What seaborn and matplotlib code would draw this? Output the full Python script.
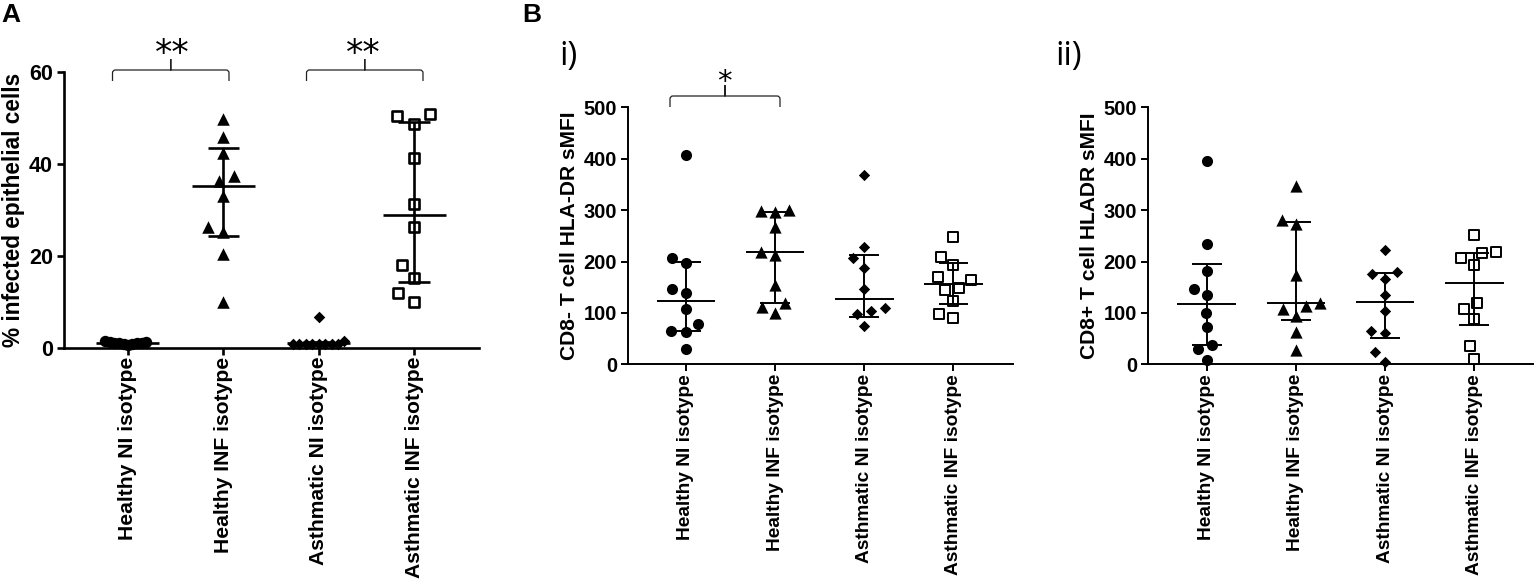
import numpy as np
import pandas as pd
import matplotlib
matplotlib.use("Agg")
import matplotlib.pyplot as plt
import seaborn as sns
from matplotlib.path import Path
from matplotlib.patches import PathPatch

W, H = 1535, 580

groups = ["Healthy NI isotype", "Healthy INF isotype", "Asthmatic NI isotype", "Asthmatic INF isotype"]

# panel A, % infected epithelial cells
a_healthy_ni = [0.5, 0.8, 0.9, 1.0, 1.0, 1.0, 1.1, 1.2, 1.3, 1.4]
a_healthy_inf = [49.7, 45.8, 42.3, 37.4, 36.3, 33.1, 26.3, 25.2, 20.3, 9.9]
a_asthma_ni = [6.6, 1.5, 0.9, 0.9, 0.9, 0.9, 0.9, 0.9, 0.9, 0.9]
a_asthma_inf = [50.9, 50.5, 48.7, 41.2, 31.3, 26.3, 18.1, 15.1, 12.0, 9.9]
a_mid = [1.0, 35.2, 1.0, 28.9]
a_low = [0.7, 24.3, 0.8, 14.4]
a_high = [1.3, 43.5, 1.2, 49.2]

# panel B i, CD8- HLA-DR
bi_healthy_ni = [407, 206, 198, 147, 139, 107, 78, 64, 62, 30]
bi_healthy_inf = [300, 299, 296, 268, 219, 213, 154, 120, 111, 100]
bi_asthma_ni = [368, 228, 206, 188, 147, 109, 104, 98, 75]
bi_asthma_inf = [247, 208, 193, 169, 164, 148, 145, 123, 98, 91]
bi_mid = [124, 218, 128, 156]
bi_low = [65, 120, 92, 117]
bi_high = [200, 297, 212, 198]

# panel B ii, CD8+ HLADR
bii_healthy_ni = [396, 234, 181, 147, 134, 99, 72, 38, 30, 8]
bii_healthy_inf = [346, 281, 273, 174, 120, 113, 107, 93, 63, 28]
bii_asthma_ni = [222, 180, 175, 165, 135, 104, 64, 60, 23, 4]
bii_asthma_inf = [252, 218, 216, 206, 193, 120, 108, 89, 36, 10]
bii_mid = [118, 119, 121, 158]
bii_low = [38, 86, 51, 77]
bii_high = [195, 277, 178, 217]

markers = ["o", "^", "D", "s"]

sns.set_theme(style="ticks")
plt.rcParams["font.family"] = ["Liberation Sans", "DejaVu Sans"]
plt.rcParams["text.color"] = "black"
plt.rcParams["axes.labelcolor"] = "black"
plt.rcParams["xtick.labelcolor"] = "black"
plt.rcParams["ytick.labelcolor"] = "black"
plt.rcParams["axes.edgecolor"] = "black"

fig = plt.figure(figsize=(W / 100, H / 100), dpi=100)


def px_axes(left, top, right, bottom):
    return fig.add_axes([left / W, 1 - bottom / H, (right - left) / W, (bottom - top) / H])


def panel(ax, series, mid, low, high, ymax, yticks, ylabel, lw, msize, layout, xlim,
          xfont, yfont, labelfont, xpad, labelpad):
    for i, vals in enumerate(series):
        df = pd.DataFrame({"group": groups[i], "value": vals})
        before = len(ax.collections)
        open_mark = markers[i] == "s"
        sns.swarmplot(data=df, x="group", y="value", order=groups, ax=ax,
                      marker=markers[i], size=layout[i], warn_thresh=1,
                      color="white" if open_mark else "black",
                      edgecolor="black", linewidth=0)
        for coll in ax.collections[before:]:
            coll.set_clip_on(False)
            coll.set_gid(str(i))
    ax.set_xlim(*xlim)
    ax.set_ylim(0, ymax)
    fig.canvas.draw()
    # freeze the swarm layout, then grow the markers to their drawn size
    for coll in ax.collections:
        if "draw" in coll.__dict__:
            del coll.__dict__["draw"]
        i = int(coll.get_gid())
        if markers[i] == "s":
            coll.set_sizes([(msize * 0.9) ** 2])
            coll.set_facecolor("white")
            coll.set_edgecolor("black")
            coll.set_linewidth(lw)
        elif markers[i] == "D":
            coll.set_sizes([(msize * 0.72) ** 2])
        elif markers[i] == "^":
            coll.set_sizes([(msize * 1.1) ** 2])
        else:
            coll.set_sizes([msize ** 2])
    pos = np.arange(len(groups))
    ax.vlines(pos, low, high, color="black", lw=lw, zorder=5)
    ax.hlines(mid, pos - 0.33, pos + 0.33, color="black", lw=lw, zorder=5)
    ax.hlines(low, pos - 0.165, pos + 0.165, color="black", lw=lw, zorder=5)
    ax.hlines(high, pos - 0.165, pos + 0.165, color="black", lw=lw, zorder=5)
    sns.despine(ax=ax)
    for side in ["left", "bottom"]:
        ax.spines[side].set_linewidth(lw)
    ax.set_yticks(yticks)
    ax.tick_params(axis="both", width=lw, length=5, color="black")
    ax.tick_params(axis="y", labelsize=yfont, pad=3)
    ax.tick_params(axis="x", labelsize=xfont, pad=xpad)
    for t in ax.get_yticklabels():
        t.set_fontweight("bold")
    for t in ax.get_xticklabels():
        t.set_rotation(90)
        t.set_fontweight("bold")
    ax.set_xlabel("")
    ax.set_ylabel(ylabel, fontsize=labelfont, fontweight="bold", labelpad=labelpad)


def bracket(x0, x1, y_foot, y_bar, y_tip):
    # brace over two groups, given in picture pixels
    xm = (x0 + x1) / 2
    r = 3
    verts = [(x0, y_foot), (x0, y_bar + r), (x0, y_bar), (x0 + r, y_bar), (xm - 1, y_bar),
             (xm, y_bar), (xm, y_tip), (xm, y_bar), (xm + 1, y_bar), (x1 - r, y_bar),
             (x1, y_bar), (x1, y_bar + r), (x1, y_foot)]
    codes = [Path.MOVETO, Path.LINETO, Path.CURVE3, Path.CURVE3, Path.LINETO,
             Path.LINETO, Path.LINETO, Path.LINETO, Path.LINETO, Path.LINETO,
             Path.CURVE3, Path.CURVE3, Path.LINETO]
    verts = [(x / W, 1 - y / H) for x, y in verts]
    fig.add_artist(PathPatch(Path(verts, codes), transform=fig.transFigure,
                             fill=False, edgecolor="#222222", lw=0.9))


def label(x, y, s, **kw):
    fig.text(x / W, 1 - y / H, s, ha="left", va="center", color="black", **kw)


ax_a = px_axes(64, 72, 479, 347.7)
panel(ax_a, [a_healthy_ni, a_healthy_inf, a_asthma_ni, a_asthma_inf], a_mid, a_low, a_high,
      60, [0, 20, 40, 60], "% infected epithelial cells", 1.9, 8.2, [3.2, 11, 4.4, 13],
      (-0.67, 3.68), 15.2, 15.5, 16.3, 1.5, 3)

ax_bi = px_axes(628, 107.3, 1013, 364.3)
panel(ax_bi, [bi_healthy_ni, bi_healthy_inf, bi_asthma_ni, bi_asthma_inf], bi_mid, bi_low, bi_high,
      500, [0, 100, 200, 300, 400, 500], "CD8- T cell HLA-DR sMFI", 1.4, 8, [10, 10, 10, 10],
      (-0.65, 3.67), 13.8, 14.5, 15.1, 2, 3)

ax_bii = px_axes(1148, 107.3, 1533, 364.3)
panel(ax_bii, [bii_healthy_ni, bii_healthy_inf, bii_asthma_ni, bii_asthma_inf], bii_mid, bii_low, bii_high,
      500, [0, 100, 200, 300, 400, 500], "CD8+ T cell HLADR sMFI", 1.4, 8, [10, 10, 10, 10],
      (-0.66, 3.66), 13.8, 14.5, 15.1, 2, 3)

bracket(112.5, 229, 81, 70, 59)
bracket(306.5, 423, 81, 70, 59)
bracket(670, 780, 107, 96, 85)

label(155, 54, "**", fontsize=25, family="DejaVu Sans")
label(346, 54, "**", fontsize=25, family="DejaVu Sans")
label(717, 82, "*", fontsize=21, family="DejaVu Sans")

label(1, 15, "A", fontsize=19, fontweight="bold")
label(522, 15, "B", fontsize=19, fontweight="bold")
label(559, 57, "i)", fontsize=24, family="Open Sans")
label(1055, 57, "ii)", fontsize=24, family="Open Sans")

fig.savefig("out.png", dpi=100)
